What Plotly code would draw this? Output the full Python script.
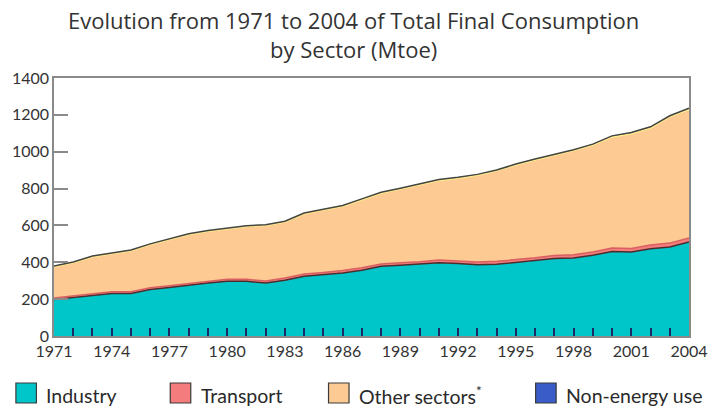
import plotly.graph_objects as go

years = list(range(1971, 2005))
industry = [198, 209, 222, 231, 231, 252, 263, 276, 288, 297, 297, 287, 303, 324, 333, 342, 357,
            378, 384, 389, 398, 393, 386, 389, 398, 407, 420, 423, 438, 459, 456, 474, 483, 510]
transport = [8, 8, 9, 9, 9, 10, 10, 10, 11, 11, 11, 11, 12, 12, 12, 13, 13,
             13, 14, 14, 15, 15, 15, 16, 16, 17, 17, 18, 18, 19, 19, 20, 21, 22]
other_sectors = [170, 181, 199, 208, 223, 234, 251, 265, 270, 273, 286, 302, 304, 327, 337, 349, 369,
                 384, 399, 417, 431, 448, 471, 491, 514, 531, 542, 565, 580, 602, 623, 635, 685, 698]
non_energy = [4, 4, 4, 4, 4, 4, 4, 4, 4, 4, 4, 4, 4, 4, 4, 4, 5,
              5, 5, 5, 5, 5, 5, 5, 5, 5, 5, 5, 5, 6, 6, 6, 6, 6]

series_names = ["Industry", "Transport", "Other sectors*", "Non-energy use"]
series_values = [industry, transport, other_sectors, non_energy]
fill_colors = ["#00C5C9", "#F47C7C", "#FDCA93", "#3A5CC8"]
line_colors = ["#4A2E2E", "#D86060", "#FFF08C", "#454540"]

x_tick_labels = [str(y) for y in range(1971, 2005, 3)]
y_tick_vals = [0, 200, 400, 600, 800, 1000, 1200, 1400]
title_text = "Evolution from 1971 to 2004 of Total Final Consumption<br>by Sector (Mtoe)"

fig = go.Figure()
for name, vals, fc, lc in zip(series_names, series_values, fill_colors, line_colors):
    fig.add_trace(go.Scatter(
        x=years, y=vals, name=name, mode="lines", stackgroup="one",
        fillcolor=fc, line=dict(color=lc, width=1.5), showlegend=False,
    ))

# title (two centred lines)
fig.add_annotation(xref="paper", yref="paper", x=(360 - 53) / 650, y=(336 - 35) / 258,
                   text=title_text, showarrow=False, xanchor="center", yanchor="middle",
                   font=dict(family="Open Sans", size=22, color="#333333"))

# manual legend (swatch + label)
leg_x = [14, 172, 334, 546]
for i, (name, fc) in enumerate(zip(series_names, fill_colors)):
    x0 = leg_x[i]
    fig.add_shape(type="rect", xref="paper", yref="paper",
                  x0=(x0 - 53) / 650, x1=(x0 + 21 - 53) / 650,
                  y0=(336 - 403) / 258, y1=(336 - 383) / 258,
                  fillcolor=fc, line=dict(color="#3a3a3a", width=1.2))
    fig.add_annotation(xref="paper", yref="paper", x=(x0 + 29 - 53) / 650, y=(336 - 395) / 258,
                       text=name.replace("*", "<sup>*</sup>"), showarrow=False, xanchor="left", yanchor="middle",
                       font=dict(family="Lato", size=19.5, color="#2a2a2a"))

fig.update_layout(
    width=720, height=407,
    margin=dict(l=53, r=17, t=78, b=71),
    paper_bgcolor="white", plot_bgcolor="white",
    xaxis=dict(range=[1971, 2004], tickvals=[int(t) for t in x_tick_labels], ticktext=x_tick_labels,
               ticklabeloverflow="allow",
               ticks="inside", ticklen=8, tickcolor="#1c2a66", tickwidth=1.5,
               minor=dict(dtick=1, tick0=1971, ticks="inside", ticklen=8, tickcolor="#1c2a66", tickwidth=1.5),
               showgrid=False, zeroline=False, showline=True, linecolor="#8a8a8a", linewidth=1.5,
               mirror=True, tickfont=dict(family="Lato", size=16, color="#333333")),
    yaxis=dict(range=[0, 1400], tickvals=y_tick_vals,
               ticks="inside", ticklen=14, tickcolor="#8a8a8a", tickwidth=1.5,
               showgrid=False, zeroline=False, showline=True, linecolor="#8a8a8a", linewidth=1.5,
               mirror=True, tickfont=dict(family="Lato", size=16, color="#333333")),
)

fig.write_html("out.html", config={"displayModeBar": False},
               post_script="document.body.style.margin='0';document.body.style.overflow='hidden';")
